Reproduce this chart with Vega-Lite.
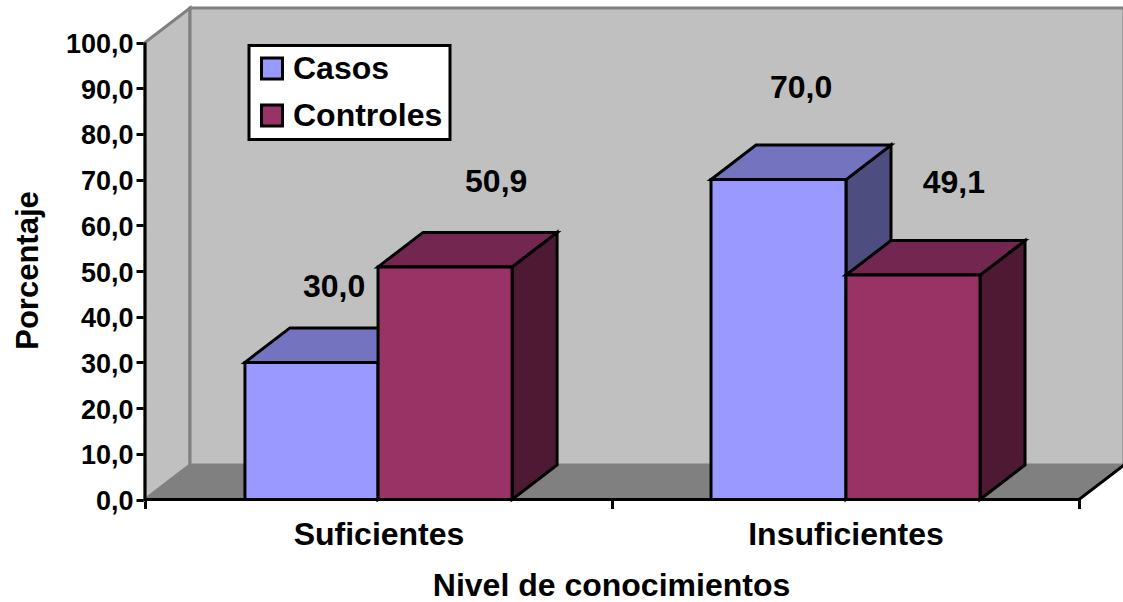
{
  "$schema": "https://vega.github.io/schema/vega-lite/v6.json",
  "width": 978,
  "height": 491.5,
  "autosize": "none",
  "padding": {"left": 145, "top": 8, "right": 0, "bottom": 102.5},
  "background": "white",
  "config": {
    "view": {"stroke": null},
    "font": "Liberation Sans",
    "legend": {"strokeWidth": 3},
    "axis": {"grid": false, "domain": false, "labelFont": "Liberation Sans", "titleFont": "Liberation Sans", "labelFontWeight": "bold", "titleFontWeight": "bold", "labelColor": "black", "titleColor": "black", "tickColor": "black", "tickWidth": 3}
  },
  "datasets": {
    "paredes": [
      {"pieza": "lateral", "x": 0, "y": 0, "y2": 100},
      {"pieza": "lateral", "x": 0.0964, "y": 7.55, "y2": 107.55},
      {"pieza": "fondo", "x": 0.0964, "y": 7.55, "y2": 107.55},
      {"pieza": "fondo", "x": 2.0964, "y": 7.55, "y2": 107.55}
    ],
    "suelo": [
      {"pieza": "suelo", "x": 0, "y": 0, "y2": 0},
      {"pieza": "suelo", "x": 0.0964, "y": 0, "y2": 7.55},
      {"pieza": "suelo", "x": 2, "y": 0, "y2": 7.55},
      {"pieza": "suelo", "x": 2.0964, "y": 7.55, "y2": 7.55}
    ],
    "borde": [
      {"orden": 1, "x": 0, "y": 100},
      {"orden": 2, "x": 0, "y": 0},
      {"orden": 3, "x": 2, "y": 0},
      {"orden": 4, "x": 2.0964, "y": 7.55}
    ],
    "barras": [
      {"barra": "S1", "cara": "Casos lateral", "x": 0.499, "y": 0, "y2": 30.0},
      {"barra": "S1", "cara": "Casos lateral", "x": 0.5954, "y": 7.55, "y2": 37.55},
      {"barra": "S1", "cara": "Casos techo", "x": 0.214, "y": 30.0, "y2": 30.0},
      {"barra": "S1", "cara": "Casos techo", "x": 0.3104, "y": 30.0, "y2": 37.55},
      {"barra": "S1", "cara": "Casos techo", "x": 0.499, "y": 30.0, "y2": 37.55},
      {"barra": "S1", "cara": "Casos techo", "x": 0.5954, "y": 37.55, "y2": 37.55},
      {"barra": "S1", "cara": "Casos", "x": 0.214, "y": 0, "y2": 30.0},
      {"barra": "S1", "cara": "Casos", "x": 0.499, "y": 0, "y2": 30.0},

      {"barra": "S2", "cara": "Controles lateral", "x": 0.786, "y": 0, "y2": 50.9},
      {"barra": "S2", "cara": "Controles lateral", "x": 0.8824, "y": 7.55, "y2": 58.45},
      {"barra": "S2", "cara": "Controles techo", "x": 0.499, "y": 50.9, "y2": 50.9},
      {"barra": "S2", "cara": "Controles techo", "x": 0.5954, "y": 50.9, "y2": 58.45},
      {"barra": "S2", "cara": "Controles techo", "x": 0.786, "y": 50.9, "y2": 58.45},
      {"barra": "S2", "cara": "Controles techo", "x": 0.8824, "y": 58.45, "y2": 58.45},
      {"barra": "S2", "cara": "Controles", "x": 0.499, "y": 0, "y2": 50.9},
      {"barra": "S2", "cara": "Controles", "x": 0.786, "y": 0, "y2": 50.9},

      {"barra": "I1", "cara": "Casos lateral", "x": 1.501, "y": 0, "y2": 70.0},
      {"barra": "I1", "cara": "Casos lateral", "x": 1.5974, "y": 7.55, "y2": 77.55},
      {"barra": "I1", "cara": "Casos techo", "x": 1.212, "y": 70.0, "y2": 70.0},
      {"barra": "I1", "cara": "Casos techo", "x": 1.3084, "y": 70.0, "y2": 77.55},
      {"barra": "I1", "cara": "Casos techo", "x": 1.501, "y": 70.0, "y2": 77.55},
      {"barra": "I1", "cara": "Casos techo", "x": 1.5974, "y": 77.55, "y2": 77.55},
      {"barra": "I1", "cara": "Casos", "x": 1.212, "y": 0, "y2": 70.0},
      {"barra": "I1", "cara": "Casos", "x": 1.501, "y": 0, "y2": 70.0},

      {"barra": "I2", "cara": "Controles lateral", "x": 1.788, "y": 0, "y2": 49.1},
      {"barra": "I2", "cara": "Controles lateral", "x": 1.8844, "y": 7.55, "y2": 56.65},
      {"barra": "I2", "cara": "Controles techo", "x": 1.501, "y": 49.1, "y2": 49.1},
      {"barra": "I2", "cara": "Controles techo", "x": 1.5974, "y": 49.1, "y2": 56.65},
      {"barra": "I2", "cara": "Controles techo", "x": 1.788, "y": 49.1, "y2": 56.65},
      {"barra": "I2", "cara": "Controles techo", "x": 1.8844, "y": 56.65, "y2": 56.65},
      {"barra": "I2", "cara": "Controles", "x": 1.501, "y": 0, "y2": 49.1},
      {"barra": "I2", "cara": "Controles", "x": 1.788, "y": 0, "y2": 49.1}
    ],
    "etiquetas": [
      {"texto": "30,0", "x": 0.405, "y": 46.5},
      {"texto": "50,9", "x": 0.752, "y": 69.5},
      {"texto": "70,0", "x": 1.405, "y": 90.0},
      {"texto": "49,1", "x": 1.732, "y": 69.3}
    ]
  },
  "encoding": {
    "x": {
      "field": "x",
      "type": "quantitative",
      "scale": {"domain": [0, 2.0942], "nice": false, "zero": false},
      "axis": {
        "title": "Nivel de conocimientos",
        "titleFontSize": 32,
        "titleX": 466,
        "titleY": 86,
        "titleBaseline": "middle",
        "values": [0, 0.5, 1, 1.5, 2],
        "labelExpr": "datum.value == 0.5 ? 'Suficientes' : datum.value == 1.5 ? 'Insuficientes' : ''",
        "labelFontSize": 32,
        "labelPadding": 11,
        "labelLimit": 400,
        "labelOverlap": false,
        "labelFlush": false,
        "tickSize": 9,
        "tickOpacity": {"condition": {"test": "datum.value == 0 || datum.value == 1 || datum.value == 2", "value": 1}, "value": 0}
      }
    },
    "y": {
      "field": "y",
      "type": "quantitative",
      "scale": {"domain": [0, 107.55], "nice": false},
      "axis": {
        "title": "Porcentaje",
        "titleFontSize": 31,
        "titleX": -117,
        "titleY": 262,
        "titleBaseline": "middle",
        "values": [0, 10, 20, 30, 40, 50, 60, 70, 80, 90, 100],
        "labelExpr": "replace(format(datum.value, '.1f'), '.', ',')",
        "labelFontSize": 27,
        "labelPadding": 3,
        "labelOffset": 2,
        "labelOverlap": false,
        "tickSize": 9
      }
    }
  },
  "layer": [
    {
      "data": {"name": "paredes"},
      "mark": {"type": "area", "color": "#C0C0C0", "stroke": "#808080", "strokeWidth": 3, "interpolate": "linear"},
      "encoding": {"y2": {"field": "y2"}, "detail": {"field": "pieza"}}
    },
    {
      "data": {"name": "suelo"},
      "mark": {"type": "area", "color": "#808080", "stroke": "#808080", "strokeWidth": 1, "interpolate": "linear"},
      "encoding": {"y2": {"field": "y2"}, "detail": {"field": "pieza"}}
    },
    {
      "data": {"name": "borde"},
      "mark": {"type": "line", "color": "black", "strokeWidth": 3, "interpolate": "linear"},
      "encoding": {"order": {"field": "orden"}}
    },
    {
      "data": {"name": "barras"},
      "mark": {"type": "area", "stroke": "black", "strokeWidth": 3, "strokeJoin": "miter", "interpolate": "linear"},
      "encoding": {
        "y2": {"field": "y2"},
        "detail": {"field": "barra"},
        "fill": {
          "field": "cara",
          "type": "nominal",
          "scale": {
            "domain": ["Casos", "Controles", "Casos techo", "Casos lateral", "Controles techo", "Controles lateral"],
            "range": ["#9999FF", "#993366", "#7373BF", "#4D4D80", "#732650", "#4D1933"]
          },
          "legend": {
            "values": ["Casos", "Controles"],
            "title": null,
            "orient": "none",
            "legendX": 104,
            "legendY": 37.5,
            "fillColor": "white",
            "strokeColor": "black",
            "padding": 7,
            "symbolType": "square",
            "symbolSize": 440,
            "symbolStrokeColor": "black",
            "symbolStrokeWidth": 3,
            "labelFont": "Liberation Sans",
            "labelFontSize": 32,
            "labelFontWeight": "bold",
            "labelColor": "black",
            "labelOffset": 5,
            "rowPadding": 13
          }
        }
      }
    },
    {
      "data": {"name": "etiquetas"},
      "mark": {"type": "text", "font": "Liberation Sans", "fontWeight": "bold", "fontSize": 32, "color": "black", "align": "center", "baseline": "middle"},
      "encoding": {"text": {"field": "texto"}}
    }
  ]
}
